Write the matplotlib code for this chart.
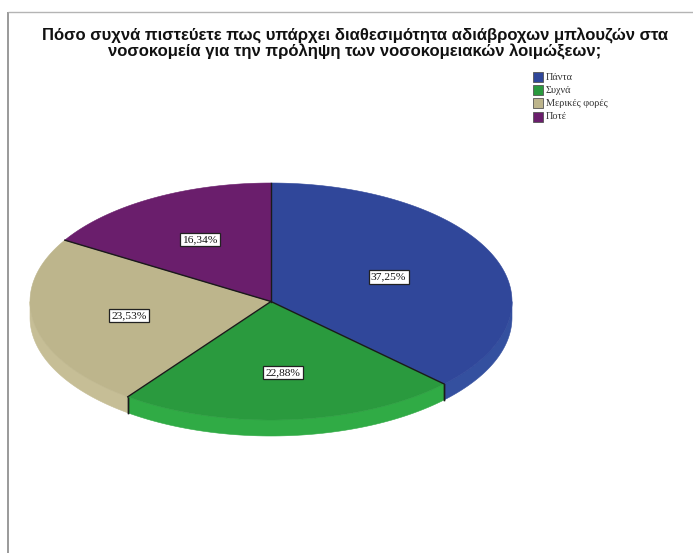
import numpy as np
import matplotlib
matplotlib.use("Agg")
import matplotlib.pyplot as plt
from matplotlib.patches import Polygon, Rectangle

# Survey answers and their shares (percent)
categories = ["Πάντα", "Συχνά", "Μερικές φορές", "Ποτέ"]
shares = [37.25, 22.88, 23.53, 16.34]
top_colors = ["#30479a", "#2a9a3e", "#bdb58c", "#6a1e6c"]
side_colors = ["#34509f", "#30ab45", "#c6be96", "#74257a"]
title_lines = ["Πόσο συχνά πιστεύετε πως υπάρχει διαθεσιμότητα αδιάβροχων μπλουζών στα",
               "νοσοκομεία για την πρόληψη των νοσοκομειακών λοιμώξεων;"]

W, H = 693, 553
fig = plt.figure(figsize=(W / 100, H / 100), dpi=100)
ax = fig.add_axes([0, 0, 1, 1])
ax.set_xlim(0, W)
ax.set_ylim(H, 0)
ax.axis("off")

# panel frame
ax.plot([8, 8], [12, H], color="#9a9a9a", lw=1.4, solid_capstyle="butt")
ax.plot([8, W], [12, 12], color="#b4b4b4", lw=1.0, solid_capstyle="butt")

# title
for k, line in enumerate(title_lines):
    ax.text(355, 36 + 16 * k, line, ha="center", va="center",
            fontsize=12.0, fontweight="bold", family="Liberation Sans", color="#111111")

# 3-D pie geometry (pixels)
cx, cy, a, b, depth = 271, 301.5, 241, 118.5, 16


def pt(t, dy=0.0):
    return cx + a * np.cos(t), cy - b * np.sin(t) + dy


fracs = np.array(shares) / np.sum(shares)
bounds = np.pi / 2 - 2 * np.pi * np.concatenate([[0], np.cumsum(fracs)])

# side walls: front half of the rim only
for i in range(len(shares)):
    lo, hi = bounds[i + 1], bounds[i]
    for shift in (0, 2 * np.pi, -2 * np.pi):
        l2, h2 = lo + shift, hi + shift
        s_lo, s_hi = max(l2, -np.pi), min(h2, 0)
        if s_hi > s_lo:
            ts = np.linspace(s_lo, s_hi, 80)
            x, y = pt(ts)
            xs = np.concatenate([x, x[::-1]])
            ys = np.concatenate([y, (y + depth)[::-1]])
            ax.add_patch(Polygon(np.column_stack([xs, ys]), closed=True,
                                 facecolor=side_colors[i], edgecolor=side_colors[i],
                                 lw=0.4, zorder=2))
            for tb in (s_lo, s_hi):
                if (np.isclose(tb, l2) or np.isclose(tb, h2)) and -np.pi < tb < 0:
                    bx, by = pt(tb)
                    ax.plot([bx, bx], [by, by + depth], color="#1a1a1a", lw=1.0, zorder=3)

# top surface
for i in range(len(shares)):
    ts = np.linspace(bounds[i], bounds[i + 1], 200)
    x, y = pt(ts)
    xs = np.concatenate([[cx], x])
    ys = np.concatenate([[cy], y])
    ax.add_patch(Polygon(np.column_stack([xs, ys]), closed=True,
                         facecolor=top_colors[i], edgecolor=top_colors[i], lw=0.4, zorder=4))

# slice boundaries on the top surface
for t in bounds[:-1]:
    bx, by = pt(t)
    ax.plot([cx, bx], [cy, by], color="#1a1a1a", lw=1.0, zorder=5)

# value labels
for i, v in enumerate(shares):
    tm = (bounds[i] + bounds[i + 1]) / 2
    r = 0.53 if i == 0 else 0.6
    lx = cx + a * r * np.cos(tm)
    ly = cy - b * r * np.sin(tm)
    ax.text(lx, ly, f"{v:.2f}%".replace(".", ","), ha="center", va="center",
            fontsize=8.2, family="Liberation Serif", color="#111111", zorder=6,
            bbox=dict(boxstyle="square,pad=0.2", facecolor="white",
                      edgecolor="#222222", lw=0.9))

# legend
for i, name in enumerate(categories):
    y = 77 + 13.2 * i
    ax.add_patch(Rectangle((533, y - 5), 10, 10, facecolor=top_colors[i],
                           edgecolor="#555555", lw=0.6, zorder=5))
    ax.text(546, y, name, ha="left", va="center", fontsize=7.4,
            family="Liberation Serif", color="#333333")

fig.savefig("out.png", dpi=100)
